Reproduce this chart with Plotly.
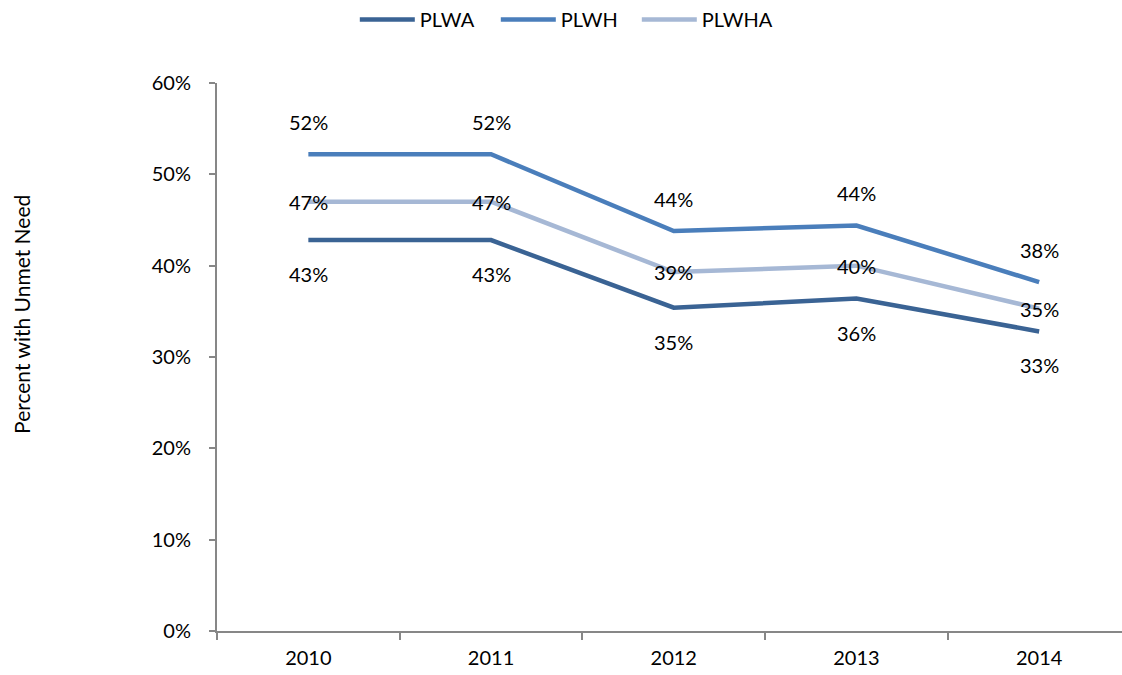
import plotly.graph_objects as go

years = ["2010", "2011", "2012", "2013", "2014"]
plwa = [0.428, 0.428, 0.354, 0.364, 0.328]
plwh = [0.522, 0.522, 0.438, 0.444, 0.382]
plwha = [0.470, 0.470, 0.393, 0.400, 0.353]

series = [
    ("PLWA", plwa, "#3A6394", -34),
    ("PLWH", plwh, "#4A7EBB", 32),
    ("PLWHA", plwha, "#A6B8D5", 0),
]

FONT = "Lato, 'Open Sans', sans-serif"
FS = 20

fig = go.Figure()
for name, vals, color, shift in series:
    fig.add_trace(go.Scatter(
        x=years, y=vals, name=name, mode="lines",
        line=dict(color=color, width=4.5),
    ))

annotations = []
for name, vals, color, shift in series:
    for i, yv in enumerate(vals):
        annotations.append(dict(
            x=i, y=yv, xref="x", yref="y", text=f"{round(yv * 100)}%",
            showarrow=False, yshift=shift,
            font=dict(family=FONT, size=FS, color="#000000"),
        ))

W, H = 1122, 675
L, R, T, B = 216.5, 0, 79, 44
pw, ph = W - L - R, H - T - B

annotations.append(dict(
    x=(21 - L) / pw, y=(H - B - 312) / ph, xref="paper", yref="paper",
    text="Percent with Unmet Need", showarrow=False, textangle=-90,
    xanchor="center", yanchor="middle",
    font=dict(family=FONT, size=21, color="#000000"),
))

cat_w = 182.8
xmax = -0.5 + pw / cat_w

fig.update_layout(
    width=W, height=H,
    margin=dict(l=L, r=R, t=T, b=B, pad=0),
    paper_bgcolor="white", plot_bgcolor="white",
    font=dict(family=FONT, size=FS, color="#000000"),
    showlegend=True,
    legend=dict(
        orientation="h", x=(566 - L) / pw, xanchor="center",
        y=1 + (T - 15) / ph, yanchor="middle",
        font=dict(family=FONT, size=FS, color="#000000"),
        itemwidth=55, entrywidth=71, entrywidthmode="pixels",
        bgcolor="rgba(0,0,0,0)",
    ),
    xaxis=dict(
        type="category", range=[-0.5, xmax],
        showgrid=False, zeroline=False,
        showline=True, linecolor="#878787", linewidth=2,
        ticks="outside", tickson="boundaries", ticklen=7, tickwidth=1.5, tickcolor="#878787",
        tickfont=dict(family=FONT, size=FS, color="#000000"),
        ticklabelstandoff=8,
    ),
    yaxis=dict(
        range=[0, 0.6], dtick=0.1, tickformat=".0%",
        showgrid=False, zeroline=False,
        showline=True, linecolor="#878787", linewidth=2,
        ticks="outside", ticklen=6, tickwidth=1.5, tickcolor="#878787",
        tickfont=dict(family=FONT, size=FS, color="#000000"),
        ticklabelstandoff=14,
    ),
    annotations=annotations,
)

fig.write_html(
    "out.html",
    config={"displayModeBar": False},
    post_script="document.body.style.margin='0';document.body.style.overflow='hidden';",
)
